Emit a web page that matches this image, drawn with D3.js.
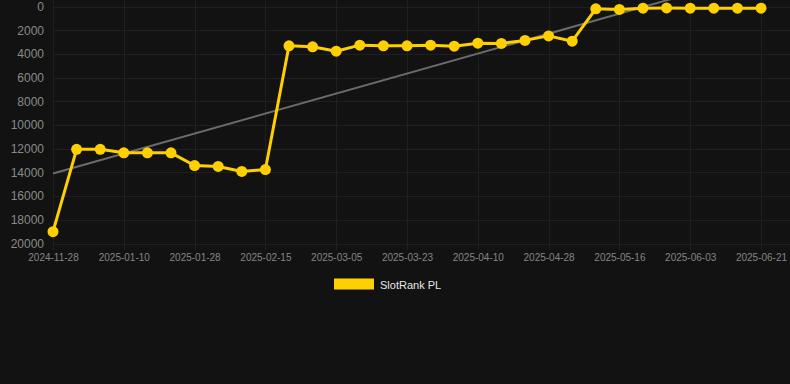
<!DOCTYPE html>
<html><head><meta charset="utf-8">
<script src="https://cdn.jsdelivr.net/npm/d3@7"></script>
<style>html,body{margin:0;padding:0;background:#121212;}svg{display:block;}</style>
</head><body>
<script>
const categories = ["2024-11-28","2024-12-29","2025-01-04","2025-01-10","2025-01-16","2025-01-22","2025-01-28","2025-02-03","2025-02-09","2025-02-15","2025-02-21","2025-02-27","2025-03-05","2025-03-11","2025-03-17","2025-03-23","2025-03-29","2025-04-04","2025-04-10","2025-04-16","2025-04-22","2025-04-28","2025-05-04","2025-05-10","2025-05-16","2025-05-22","2025-05-28","2025-06-03","2025-06-09","2025-06-15","2025-06-21"];
const rankValues = [19000,12050,12050,12350,12350,12350,13420,13500,13920,13760,3320,3400,3770,3260,3320,3320,3260,3350,3100,3120,2860,2480,2930,200,250,140,120,140,140,140,140];
const trendValues = [14100,-2770];
const yTicks = [0,2000,4000,6000,8000,10000,12000,14000,16000,18000,20000];
const seriesName = "SlotRank PL";

const W = 790, H = 384;
const svg = d3.select("body").append("svg").attr("width", W).attr("height", H);
svg.append("rect").attr("width", W).attr("height", H).attr("fill", "#121212");

const x = d3.scalePoint().domain(categories).range([53, 761]);
const y = d3.scaleLinear().domain([0, 20000]).range([6.5, 243.5]);

const gridColor = "#1f1f1f";
svg.append("g").selectAll("line").data(yTicks).join("line")
  .attr("x1", 53).attr("x2", 790)
  .attr("y1", d => Math.round(y(d)) + 0.5).attr("y2", d => Math.round(y(d)) + 0.5)
  .attr("stroke", gridColor).attr("stroke-width", 1);
const xTickCats = categories.filter((d, i) => i % 3 === 0);
svg.append("g").selectAll("line").data(xTickCats).join("line")
  .attr("x1", d => Math.round(x(d)) + 0.5).attr("x2", d => Math.round(x(d)) + 0.5)
  .attr("y1", 0).attr("y2", 250)
  .attr("stroke", gridColor).attr("stroke-width", 1);

const yAxis = d3.axisLeft(y).tickValues(yTicks).tickSize(0).tickPadding(0).tickFormat(d3.format("d"));
const gy = svg.append("g").attr("transform", "translate(44,0)").call(yAxis);
gy.select(".domain").remove();
gy.selectAll("text").attr("fill", "#8a8a8a").attr("font-size", 12).attr("font-family", "Arial, 'Liberation Sans', sans-serif");

const xAxis = d3.axisBottom(x).tickValues(xTickCats).tickSize(0).tickPadding(0);
const gx = svg.append("g").attr("transform", "translate(0,254)").call(xAxis);
gx.select(".domain").remove();
gx.selectAll("text").attr("fill", "#858585").attr("font-size", 10).attr("font-family", "Arial, 'Liberation Sans', sans-serif");

svg.append("line")
  .attr("x1", x(categories[0])).attr("y1", y(trendValues[0]))
  .attr("x2", x(categories[categories.length - 1])).attr("y2", y(trendValues[1]))
  .attr("stroke", "#6b6b6b").attr("stroke-width", 2);

const yellow = "#ffd000";
const data = categories.map((c, i) => ({c, v: rankValues[i]}));
svg.append("path").datum(data)
  .attr("fill", "none").attr("stroke", yellow).attr("stroke-width", 3).attr("stroke-linejoin", "round")
  .attr("d", d3.line().x(d => x(d.c)).y(d => y(d.v)));
svg.append("g").selectAll("circle").data(data).join("circle")
  .attr("cx", d => x(d.c)).attr("cy", d => y(d.v)).attr("r", 5.5)
  .attr("fill", yellow);

svg.append("rect").attr("x", 334).attr("y", 278.5).attr("width", 40).attr("height", 11).attr("fill", yellow);
svg.append("text").attr("x", 380).attr("y", 288.5).text(seriesName)
  .attr("fill", "#e6e6e6").attr("font-size", 11).attr("font-family", "Arial, 'Liberation Sans', sans-serif");
</script>
</body></html>
